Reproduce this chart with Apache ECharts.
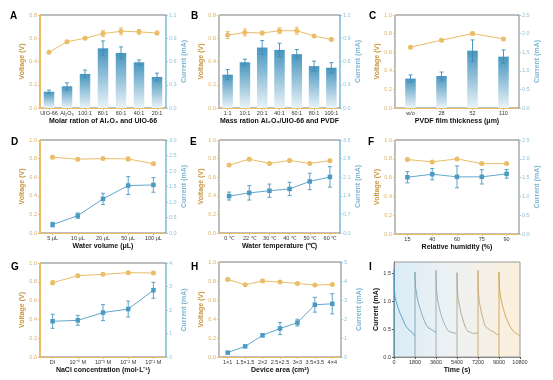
<!DOCTYPE html>
<html><head><meta charset="utf-8">
<script src="https://cdn.jsdelivr.net/npm/echarts@6/dist/echarts.min.js"></script>
<style>html,body{margin:0;padding:0;background:#fff}#c{width:553px;height:380px}</style>
</head><body><div id="c"></div>
<script>
// ---- Data ----
const aCats = ['UIO-66','Al₂O₃','100:1','80:1','60:1','40:1','20:1'];
const aVolt = [0.48,0.57,0.60,0.64,0.66,0.655,0.645];
const aVoltErr = [0.005,0.01,0.01,0.025,0.03,0.02,0.015];
const aCur = [0.21,0.28,0.44,0.77,0.71,0.59,0.40];
const aCurErr = [0.02,0.045,0.05,0.095,0.078,0.03,0.05];

const bCats = ['1:1','10:1','20:1','40:1','60:1','80:1','100:1'];
const bVolt = [0.627,0.650,0.645,0.665,0.665,0.619,0.590];
const bVoltErr = [0.03,0.03,0.015,0.025,0.03,0.01,0.01];
const bCur = [0.43,0.59,0.78,0.75,0.695,0.54,0.52];
const bCurErr = [0.065,0.04,0.09,0.086,0.06,0.065,0.065];

const cCats = ['w/o','28','52','110'];
const cVolt = [0.654,0.729,0.80,0.743];
const cVoltErr = [0.01,0.01,0.015,0.01];
const cCur = [0.79,0.86,1.54,1.38];
const cCurErr = [0.1,0.107,0.29,0.18];

const dCats = ['5 μL','10 μL','20 μL','50 μL','100 μL'];
const dVolt = [0.815,0.794,0.80,0.797,0.744];
const dVoltErr = [0.01,0.01,0.01,0.02,0.01];
const dCur = [0.27,0.56,1.10,1.53,1.55];
const dCurErr = [0.075,0.085,0.18,0.29,0.235];

const eCats = ['0 ℃','22 ℃','30 ℃','40 ℃','50 ℃','60 ℃'];
const eVolt = [0.730,0.794,0.748,0.780,0.748,0.777];
const eVoltErr = [0.01,0.015,0.01,0.015,0.01,0.015];
const eCur = [1.39,1.51,1.59,1.66,1.94,2.11];
const eCurErr = [0.15,0.27,0.25,0.25,0.31,0.385];

const fCats = ['15','40','60','75','90'];
const fVolt = [0.792,0.767,0.799,0.749,0.749];
const fVoltErr = [0.01,0.01,0.015,0.01,0.01];
const fCur = [1.51,1.59,1.52,1.52,1.60];
const fCurErr = [0.15,0.15,0.29,0.19,0.115];

const gCats = ['DI','10⁻⁴ M','10⁻³ M','10⁻² M','10⁻¹ M'];
const gVolt = [0.79,0.865,0.879,0.897,0.894];
const gVoltErr = [0.02,0.01,0.01,0.01,0.01];
const gCur = [1.52,1.56,1.89,2.04,2.84];
const gCurErr = [0.30,0.21,0.34,0.34,0.34];

const hCats = ['1×1','1.5×1.5','2×2','2.5×2.5','3×3','3.5×3.5','4×4'];
const hVolt = [0.817,0.761,0.799,0.789,0.775,0.757,0.764];
const hVoltErr = [0.015,0.01,0.015,0.015,0.01,0.01,0.01];
const hCur = [0.23,0.56,1.14,1.50,1.81,2.75,2.80];
const hCurErr = [0.04,0.05,0.07,0.32,0.18,0.39,0.53];

// Panel I: time offsets within each 1800 s cycle and current readings
const iCycleStarts = [0,1800,3600,5400,7200,9000];
const iOffsets = [0,0,20,50,100,160,230,300,380,460,540,620,700,780,860,940,1020,1100,1180,1260,1340,1420,1500,1580,1660,1740,1800];
const iCyc1 = [0,1.56,1.30,1.16,1.07,1.01,0.96,0.91,0.86,0.83,0.77,0.75,0.70,0.66,0.63,0.58,0.56,0.53,0.52,0.49,0.50,0.46,0.45,0.44,0.41,0.40,0.37];
const iCyc2 = [0,1.52,1.35,1.25,1.18,1.10,1.02,0.96,0.90,0.85,0.80,0.74,0.70,0.66,0.62,0.58,0.55,0.53,0.56,0.53,0.50,0.49,0.50,0.47,0.46,0.45,0.44];
const iCyc3 = [0,1.55,1.30,1.18,1.08,1.00,0.93,0.86,0.80,0.74,0.69,0.64,0.60,0.56,0.53,0.50,0.48,0.46,0.45,0.43,0.44,0.42,0.41,0.43,0.41,0.42,0.42];
const iCyc4 = [0,1.51,1.28,1.15,1.05,0.97,0.90,0.83,0.76,0.70,0.64,0.59,0.55,0.51,0.48,0.46,0.45,0.47,0.44,0.43,0.45,0.42,0.43,0.41,0.43,0.42,0.43];
const iCyc5 = [0,1.55,1.25,1.12,1.02,0.94,0.86,0.79,0.72,0.66,0.60,0.55,0.52,0.54,0.51,0.49,0.50,0.47,0.46,0.44,0.45,0.43,0.42,0.41,0.40,0.39,0.40];
const iCyc6 = [0,1.52,1.32,1.22,1.12,1.05,0.98,0.92,0.86,0.80,0.75,0.70,0.66,0.62,0.58,0.55,0.52,0.50,0.48,0.46,0.44,0.43,0.42,0.41,0.40,0.38,0.37];
const iCycles = [iCyc1,iCyc2,iCyc3,iCyc4,iCyc5,iCyc6];
const iTicks = [0,1800,3600,5400,7200,9000,10800];

// ---- Style ----
const FONT = 'Liberation Sans';
const GOLD = '#EBBD66', GOLD_LBL = '#D9B063', GOLD_NAME = '#C9953D';
const BLUE = '#4A9AC3', BLUE_LINE = '#62A8CC', BLUE_AX = '#9CCBE1', BLUE_LBL = '#8EC2DB', BLUE_NAME = '#7DB5D1';
const iColors = ['#4E9FC7','#7BA2B3','#98A8AE','#ACA391','#C6A56C','#D2A049'];

const panels = [
  {L:'A', cats:aCats, volt:aVolt, vErr:aVoltErr, cur:aCur, cErr:aCurErr, bar:true, lMax:0.8, rMax:1.2, rInt:0.3, rDec:1, xName:'Molar ration of Al₂O₃ and UIO-66', rect:[40,15,126,93], lp:[10,11]},
  {L:'B', cats:bCats, volt:bVolt, vErr:bVoltErr, cur:bCur, cErr:bCurErr, bar:true, lMax:0.8, rMax:1.2, rInt:0.3, rDec:1, xName:'Mass ration Al₂O₃/UIO-66 and PVDF', rect:[219,15,121,93], lp:[191,11]},
  {L:'C', cats:cCats, volt:cVolt, vErr:cVoltErr, cur:cCur, cErr:cCurErr, bar:true, lMax:1.0, rMax:2.5, rInt:0.5, rDec:1, xName:'PVDF film thickness (μm)', rect:[395,15,124,93], lp:[369,11]},
  {L:'D', cats:dCats, volt:dVolt, vErr:dVoltErr, cur:dCur, cErr:dCurErr, bar:false, lMax:1.0, rMax:3.0, rInt:0.5, rDec:1, xName:'Water volume (μL)', rect:[40,140,126,93], lp:[11,137]},
  {L:'E', cats:eCats, volt:eVolt, vErr:eVoltErr, cur:eCur, cErr:eCurErr, bar:false, lMax:1.0, rMax:3.5, rInt:0.7, rDec:1, xName:'Water temperature (℃)', rect:[219,140,121,93], lp:[190,137]},
  {L:'F', cats:fCats, volt:fVolt, vErr:fVoltErr, cur:fCur, cErr:fCurErr, bar:false, lMax:1.0, rMax:2.5, rInt:0.5, rDec:1, xName:'Relative humidity (%)', rect:[395,140,124,94], lp:[368,137]},
  {L:'G', cats:gCats, volt:gVolt, vErr:gVoltErr, cur:gCur, cErr:gCurErr, bar:false, lMax:1.0, rMax:4, rInt:1, rDec:0, xName:'NaCl concentration (mol·L⁻¹)', rect:[40,263,126,94], lp:[11,262]},
  {L:'H', cats:hCats, volt:hVolt, vErr:hVoltErr, cur:hCur, cErr:hCurErr, bar:false, lMax:1.0, rMax:5, rInt:1, rDec:0, xName:'Device area (cm²)', rect:[219,262,122,95], lp:[191,262]}
];

const grid = [], xAxis = [], yAxis = [], series = [], graphic = [];

function errRender(color){
  return function(params, api){
    const x = api.value(0), y = api.value(1), e = api.value(2);
    const hi = api.coord([x, y+e]), lo = api.coord([x, y-e]);
    const w = 2;
    const st = {stroke: color, lineWidth: 0.9};
    return {type:'group', children:[
      {type:'line', shape:{x1:hi[0],y1:hi[1],x2:lo[0],y2:lo[1]}, style:st},
      {type:'line', shape:{x1:hi[0]-w,y1:hi[1],x2:hi[0]+w,y2:hi[1]}, style:st},
      {type:'line', shape:{x1:lo[0]-w,y1:lo[1],x2:lo[0]+w,y2:lo[1]}, style:st}
    ]};
  };
}

panels.forEach((p, k) => {
  grid.push({left:p.rect[0], top:p.rect[1], width:p.rect[2], height:p.rect[3], show:true, borderColor:'#5a5a5a', borderWidth:0.8, backgroundColor:'transparent'});
  xAxis.push({type:'category', gridIndex:k, data:p.cats, boundaryGap:true,
    axisLine:{lineStyle:{color:GOLD, width:1}},
    axisTick:{show:true, alignWithLabel:true, length:2, lineStyle:{color:GOLD}},
    axisLabel:{fontSize:5.5, color:'#333', margin:2.5, fontFamily:FONT, interval:0},
    name:p.xName, nameLocation:'middle', nameGap:9.5,
    nameTextStyle:{fontSize:7, fontWeight:'bold', color:'#111', fontFamily:FONT}});
  yAxis.push({type:'value', gridIndex:k, position:'left', min:0, max:p.lMax, interval:0.2,
    axisLine:{show:true, lineStyle:{color:GOLD, width:1}},
    axisTick:{show:true, length:2, lineStyle:{color:GOLD}},
    splitLine:{show:false},
    axisLabel:{fontSize:5.5, color:GOLD_LBL, margin:3, fontFamily:FONT, formatter:v=>v.toFixed(1)},
    name:'Voltage (V)', nameLocation:'middle', nameGap:14.5,
    nameTextStyle:{fontSize:7, fontWeight:'bold', color:GOLD_NAME, fontFamily:FONT}});
  yAxis.push({type:'value', gridIndex:k, position:'right', min:0, max:p.rMax, interval:p.rInt,
    axisLine:{show:true, lineStyle:{color:BLUE_AX, width:1}},
    axisTick:{show:true, length:2, lineStyle:{color:BLUE_AX}},
    splitLine:{show:false},
    axisLabel:{fontSize:5.5, color:BLUE_LBL, margin:3, fontFamily:FONT, formatter:v=>v.toFixed(p.rDec)},
    name:'Current (mA)', nameLocation:'middle', nameGap:14.5,
    nameTextStyle:{fontSize:7, fontWeight:'bold', color:BLUE_NAME, fontFamily:FONT}});
  const yl = 2*k, yr = 2*k+1;
  if (p.bar) {
    series.push({type:'bar', xAxisIndex:k, yAxisIndex:yr, data:p.cur, barWidth:10.5, z:2,
      itemStyle:{color:new echarts.graphic.LinearGradient(0,0,0,1,[{offset:0,color:'#4695BE'},{offset:1,color:'#EAF3F8'}])}});
    series.push({type:'custom', xAxisIndex:k, yAxisIndex:yr, renderItem:errRender('#3F8DB8'),
      data:p.cur.map((v,i)=>[i,v,p.cErr[i]]), z:3, encode:{x:0,y:1}});
  } else {
    series.push({type:'line', xAxisIndex:k, yAxisIndex:yr, data:p.cur, symbol:'rect', symbolSize:4.5,
      lineStyle:{color:BLUE_LINE, width:1}, itemStyle:{color:BLUE}, z:3});
    series.push({type:'custom', xAxisIndex:k, yAxisIndex:yr, renderItem:errRender(BLUE),
      data:p.cur.map((v,i)=>[i,v,p.cErr[i]]), z:3, encode:{x:0,y:1}});
  }
  series.push({type:'line', xAxisIndex:k, yAxisIndex:yl, data:p.volt, symbol:'circle', symbolSize:5,
    lineStyle:{color:GOLD, width:1}, itemStyle:{color:GOLD}, z:4});
  series.push({type:'custom', xAxisIndex:k, yAxisIndex:yl, renderItem:errRender(GOLD),
    data:p.volt.map((v,i)=>[i,v,p.vErr[i]]), z:4, encode:{x:0,y:1}});
  graphic.push({type:'text', left:p.lp[0], top:p.lp[1], style:{text:p.L, font:'bold 10px "Liberation Sans"', fill:'#000'}});
});

// Panel I
grid.push({left:394, top:262, width:126, height:95, show:true, borderColor:'#999', borderWidth:1,
  backgroundColor:{type:'linear', x:0, y:0, x2:1, y2:0, colorStops:[{offset:0,color:'#DAECF6'},{offset:0.45,color:'#EDF2F3'},{offset:1,color:'#FCEFDC'}]}});
xAxis.push({type:'value', gridIndex:8, min:0, max:10800, interval:1800,
  axisLine:{lineStyle:{color:'#888', width:1}},
  axisTick:{show:true, length:2, lineStyle:{color:'#555'}},
  splitLine:{show:false},
  axisLabel:{fontSize:5.5, color:'#333', margin:2.5, fontFamily:FONT, formatter:v=>iTicks.includes(v)?String(v):''},
  name:'Time (s)', nameLocation:'middle', nameGap:9.5,
  nameTextStyle:{fontSize:7, fontWeight:'bold', color:'#111', fontFamily:FONT}});
yAxis.push({type:'value', gridIndex:8, min:0, max:1.7, interval:0.5,
  axisLine:{show:true, lineStyle:{color:'#888', width:1}},
  axisTick:{show:true, length:2, lineStyle:{color:'#555'}},
  splitLine:{show:false},
  axisLabel:{fontSize:5.5, color:'#333', margin:3, fontFamily:FONT, showMaxLabel:false, formatter:v=>v>1.6?'':v.toFixed(1)},
  name:'Current (mA)', nameLocation:'middle', nameGap:14,
  nameTextStyle:{fontSize:7, fontWeight:'bold', color:'#111', fontFamily:FONT}});
iCycles.forEach((cyc, c) => {
  series.push({type:'line', xAxisIndex:8, yAxisIndex:16, showSymbol:false, symbol:'none',
    data:iOffsets.map((t,i)=>[iCycleStarts[c]+t, cyc[i]]),
    lineStyle:{color:iColors[c], width:0.9}, z:3});
});
graphic.push({type:'text', left:369, top:262, style:{text:'I', font:'bold 10px "Liberation Sans"', fill:'#000'}});

const chart = echarts.init(document.getElementById('c'), null, {renderer:'canvas'});
chart.setOption({animation:false, backgroundColor:'#fff', textStyle:{fontFamily:FONT}, grid, xAxis, yAxis, series, graphic});
</script></body></html>
